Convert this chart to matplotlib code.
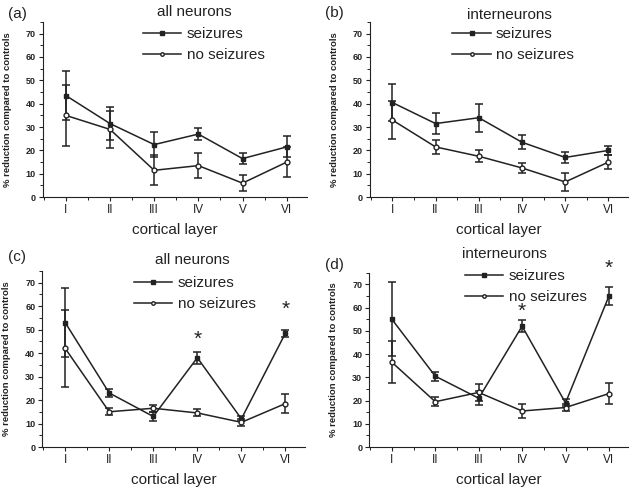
import numpy as np
import matplotlib
matplotlib.use("Agg")
import matplotlib.pyplot as plt
from matplotlib.ticker import MultipleLocator
from matplotlib.lines import Line2D

plt.rcParams['font.family'] = ['Liberation Sans', 'DejaVu Sans']

layers = ["I", "II", "III", "IV", "V", "VI"]

# (a) all neurons
a_seiz = [43.5, 31.5, 22.5, 27, 16.5, 21.5]
a_seiz_err = [10.5, 7, 5.5, 2.5, 2.5, 4.5]
a_noseiz = [35, 29, 11.5, 13.5, 6, 15]
a_noseiz_err = [13, 8, 6.5, 5.5, 3.5, 6.5]

# (b) interneurons
b_seiz = [40.5, 31.5, 34, 23.5, 17, 20]
b_seiz_err = [8, 4.5, 6, 3, 2.5, 2]
b_noseiz = [33, 21.5, 17.5, 12.5, 6.5, 15]
b_noseiz_err = [8, 3, 2.5, 2, 4, 3]

# (c) all neurons
c_seiz = [53, 23, 13, 38, 12, 48.5]
c_seiz_err = [14.5, 1.5, 2, 2.5, 1, 1.5]
c_noseiz = [42, 15, 16.5, 14.5, 10.5, 18.5]
c_noseiz_err = [16.5, 1.5, 1.5, 1.5, 1.5, 4]
c_stars = [(4, 46), (6, 58.5)]

# (d) interneurons
d_seiz = [55, 30.5, 21, 52, 19, 65]
d_seiz_err = [16, 2, 3, 2.5, 1.5, 4]
d_noseiz = [36.5, 19.5, 23.5, 15.5, 17, 23]
d_noseiz_err = [9, 2, 3.5, 3, 1.5, 4.5]
d_stars = [(4, 58.5), (6, 77)]

# tag, title, axes rect, tag pos, title pos, legend anchor
panels = [
    ("(a)", "all neurons", [0.067, 0.596, 0.412, 0.359], (-0.133, 1.046), (0.576, 1.057), (0.38, 0.97),
     a_seiz, a_seiz_err, a_noseiz, a_noseiz_err, []),
    ("(b)", "interneurons", [0.578, 0.596, 0.403, 0.359], (-0.174, 1.05), (0.54, 1.04), (0.32, 0.97),
     b_seiz, b_seiz_err, b_noseiz, b_noseiz_err, []),
    ("(c)", "all neurons", [0.066, 0.084, 0.411, 0.361], (-0.13, 1.08), (0.57, 1.063), (0.35, 0.97),
     c_seiz, c_seiz_err, c_noseiz, c_noseiz_err, c_stars),
    ("(d)", "interneurons", [0.577, 0.084, 0.405, 0.357], (-0.17, 1.045), (0.52, 1.108), (0.37, 1.02),
     d_seiz, d_seiz_err, d_noseiz, d_noseiz_err, d_stars),
]

fig = plt.figure(figsize=(6.4, 4.88), dpi=100)
x = np.arange(1, 7)
col = "#222222"

for tag, title, pos, tagpos, tpos, lpos, s, se, n, ne, stars in panels:
    ax = fig.add_axes(pos)
    ax.errorbar(x, s, yerr=se, color=col, lw=1.1, marker="s", ms=3.5, mfc=col, mec=col,
                capsize=3, elinewidth=1.1, capthick=1.1)
    ax.errorbar(x, n, yerr=ne, color=col, lw=1.1, marker="o", ms=3.5, mfc="white", mec=col,
                capsize=3, elinewidth=1.1, capthick=1.1)
    for sx, sy in stars:
        ax.text(sx, sy, "*", ha="center", va="center", fontsize=15, color=col, clip_on=False)
    ax.set_xlim(0.48, 6.45)
    ax.set_ylim(0, 75)
    ax.set_xticks(x)
    ax.set_xticklabels(layers, fontsize=8.5)
    ax.xaxis.set_minor_locator(MultipleLocator(0.5))
    ax.set_yticks(np.arange(0, 71, 10))
    ax.yaxis.set_minor_locator(MultipleLocator(5))
    ax.tick_params(axis="y", labelsize=6.5, length=3, width=0.8, colors=col, pad=2)
    ax.tick_params(axis="x", length=3, width=0.8, colors=col, pad=2)
    ax.tick_params(which="minor", length=2, width=0.6)
    for lab in ax.get_yticklabels():
        lab.set_fontweight("bold")
    ax.spines["top"].set_visible(False)
    ax.spines["right"].set_visible(False)
    ax.spines["left"].set_color(col)
    ax.spines["bottom"].set_color(col)
    ax.set_xlabel("cortical layer", fontsize=11, color=col, labelpad=5)
    ax.set_ylabel("% reduction compared to controls", fontsize=6.8, fontweight="bold", color=col, labelpad=10)
    ax.text(tpos[0], tpos[1], title, transform=ax.transAxes, ha="center", va="center", fontsize=11, color=col)
    ax.text(tagpos[0], tagpos[1], tag, transform=ax.transAxes, ha="left", va="center", fontsize=11, color=col)
    handles = [Line2D([], [], color=col, lw=1.1, marker="s", ms=2.5, mfc=col, mec=col),
               Line2D([], [], color=col, lw=1.1, marker="o", ms=2.5, mfc="white", mec=col)]
    leg = ax.legend(handles, ["seizures", "no seizures"], loc="upper left", bbox_to_anchor=lpos,
                    frameon=False, fontsize=11, handlelength=2.5, handletextpad=0.35,
                    labelspacing=0.45, borderpad=0, borderaxespad=0)
    for t in leg.get_texts():
        t.set_color(col)

fig.savefig("out.png", dpi=100)
